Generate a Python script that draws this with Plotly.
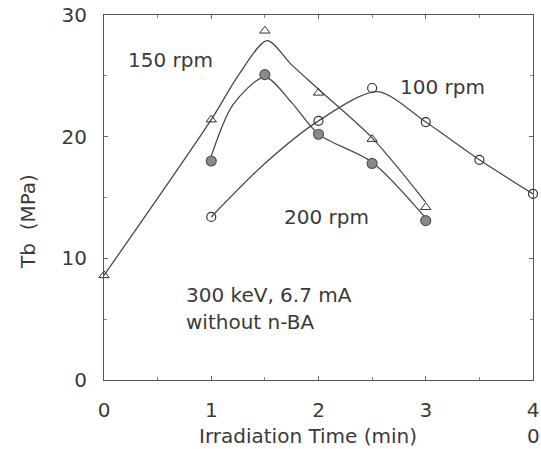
import plotly.graph_objects as go

# ---- data ----
t150 = [0, 1, 1.5, 2, 2.5, 3]
tb150 = [8.6, 21.4, 28.7, 23.6, 19.8, 14.2]
fit_t150 = [0, 1, 1.25, 1.52, 1.75, 2, 2.5, 3]
fit_tb150 = [8.6, 21.4, 25.0, 27.9, 25.9, 23.9, 19.9, 14.6]

t200 = [1, 1.5, 2, 2.5, 3]
tb200 = [18.0, 25.1, 20.2, 17.8, 13.1]
fit_t200 = [1, 1.2, 1.5, 1.75, 2, 2.5, 3]
fit_tb200 = [18.4, 22.6, 24.9, 22.8, 20.2, 17.9, 13.3]

t100 = [1, 2, 2.5, 3, 3.5, 4]
tb100 = [13.4, 21.3, 24.0, 21.2, 18.1, 15.3]
fit_t100 = [1, 1.5, 2, 2.55, 3, 3.5, 4]
fit_tb100 = [13.4, 17.8, 21.3, 23.7, 21.2, 18.1, 15.3]

x_ticks = [0, 1, 2, 3, 4]
y_ticks = [0, 10, 20, 30]

LINE = "#4a4a4a"
FONT = "DejaVu Sans"
TXT = "#3a3a3a"

fig = go.Figure()
for fx, fy in [(fit_t150, fit_tb150), (fit_t200, fit_tb200), (fit_t100, fit_tb100)]:
    fig.add_trace(go.Scatter(x=fx, y=fy, mode="lines",
                             line=dict(color=LINE, width=1.3, shape="spline", smoothing=0.8),
                             hoverinfo="skip", showlegend=False, cliponaxis=False))

fig.add_trace(go.Scatter(x=t150, y=tb150, mode="markers", name="150 rpm", cliponaxis=False,
                         marker=dict(symbol="triangle-up-open", size=9, color="#333",
                                     line=dict(width=1)), showlegend=False))
fig.add_trace(go.Scatter(x=t200, y=tb200, mode="markers", name="200 rpm", cliponaxis=False,
                         marker=dict(symbol="circle", size=10, color="#8a8a8a",
                                     line=dict(width=1.2, color="#555")), showlegend=False))
fig.add_trace(go.Scatter(x=t100, y=tb100, mode="markers", name="100 rpm", cliponaxis=False,
                         marker=dict(symbol="circle-open", size=9, color="#333",
                                     line=dict(width=1.2)), showlegend=False))

ann_font = dict(family=FONT, size=20, color=TXT)
A = dict(showarrow=False, font=ann_font, yanchor="middle")
annotations = [
    dict(x=0.205, y=26.3, text="150 rpm", xref="x", yref="y", xanchor="left", **A),
    dict(x=2.74, y=24.1, text="100 rpm", xref="x", yref="y", xanchor="left", **A),
    dict(x=1.655, y=13.4, text="200 rpm", xref="x", yref="y", xanchor="left", **A),
    dict(x=0.745, y=7.0, text="300 keV, 6.7 mA", xref="x", yref="y", xanchor="left", **A),
    dict(x=0.745, y=4.8, text="without n-BA", xref="x", yref="y", xanchor="left", **A),
    dict(x=308, y=436, text="Irradiation Time (min)", xref="paper", yref="paper",
         xanchor="center", **A),
    dict(x=28, y=222, text="Tb  (MPa)", xref="paper", yref="paper", textangle=-90,
         xanchor="center", **A),
    dict(x=533, y=436, text="0", xref="paper", yref="paper", xanchor="center", **A),
]

# page geometry in pixels
W, H = 541, 449
left, top, right, bottom = 104, 15, 533, 380  # plot box
L, T, R, B = left, top, W - right, H - bottom
pw, ph = W - L - R, H - T - B
for a in annotations:
    if a["xref"] == "paper":
        a["x"] = (a["x"] - L) / pw
        a["y"] = (H - a["y"] - B) / ph

fig.update_layout(
    width=W, height=H,
    margin=dict(l=L, r=R, t=T, b=B, autoexpand=False),
    paper_bgcolor="white", plot_bgcolor="white",
    font=dict(family=FONT, size=20, color=TXT),
    annotations=annotations,
    xaxis=dict(range=[0, 4], tickvals=x_ticks, ticktext=[str(v) for v in x_ticks],
               automargin=False,
               showgrid=False, zeroline=False, showline=True, mirror="ticks",
               linecolor="#555", linewidth=1.2, ticks="inside", ticklen=4,
               tickcolor="#666", ticklabelstandoff=12,
               minor=dict(dtick=0.5, ticks="inside", ticklen=3, tickcolor="#888")),
    yaxis=dict(range=[0, 30], tickvals=y_ticks, ticktext=[str(v) for v in y_ticks],
               automargin=False,
               showgrid=False, zeroline=False, showline=True, mirror="ticks",
               linecolor="#555", linewidth=1.2, ticks="inside", ticklen=4,
               tickcolor="#666", ticklabelstandoff=12,
               minor=dict(dtick=5, ticks="inside", ticklen=3, tickcolor="#888")),
)

fig.write_html("out.html", config={"displayModeBar": False},
               post_script="document.body.style.margin='0px';document.body.style.overflow='hidden';")
